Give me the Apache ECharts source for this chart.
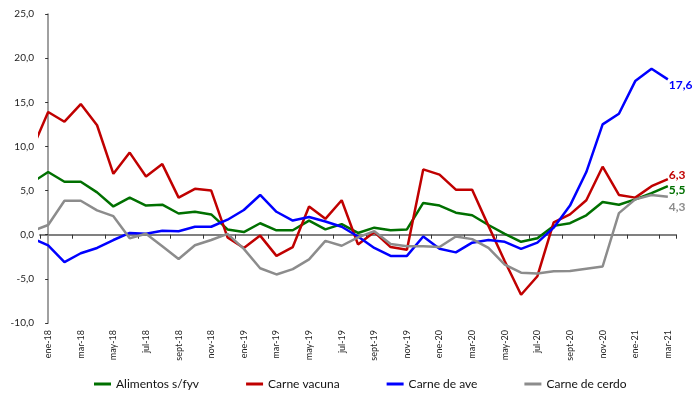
<!DOCTYPE html>
<html>
<head>
<meta charset="utf-8">
<script src="https://cdn.jsdelivr.net/npm/echarts@6/dist/echarts.min.js"></script>
<style>
  html, body { margin: 0; padding: 0; background: #fff; }
  #chart { width: 692px; height: 403px; }
</style>
</head>
<body>
<div id="chart"></div>
<script>
// months shown on the axis (ene-18 .. mar-21)
const months = [
  'ene-18','feb-18','mar-18','abr-18','may-18','jun-18','jul-18','ago-18','sept-18','oct-18','nov-18','dic-18',
  'ene-19','feb-19','mar-19','abr-19','may-19','jun-19','jul-19','ago-19','sept-19','oct-19','nov-19','dic-19',
  'ene-20','feb-20','mar-20','abr-20','may-20','jun-20','jul-20','ago-20','sept-20','oct-20','nov-20','dic-20',
  'ene-21','feb-21','mar-21'
]
// series start one month earlier (dic-17), cut by the y axis
const firstIdx = -1

const alimentos = [5.9, 7.1, 6.0, 6.0, 4.8, 3.2, 4.2, 3.3, 3.4, 2.4, 2.6, 2.3, 0.6, 0.3, 1.3, 0.5, 0.5, 1.6, 0.6, 1.2,
  0.2, 0.8, 0.5, 0.6, 3.6, 3.3, 2.5, 2.2, 1.1, 0.1, -0.8, -0.4, 1.0, 1.3, 2.2, 3.7, 3.4, 4.0, 4.7, 5.5]
const vacuna = [9.6, 13.9, 12.8, 14.8, 12.4, 6.9, 9.3, 6.6, 8.0, 4.2, 5.2, 5.0, -0.3, -1.5, -0.1, -2.4, -1.4, 3.2, 1.8, 3.9,
  -1.1, 0.3, -1.4, -1.7, 7.4, 6.8, 5.1, 5.1, 1.0, -3.0, -6.8, -4.7, 1.4, 2.3, 3.9, 7.7, 4.5, 4.2, 5.5, 6.3]
const ave = [-0.4, -1.2, -3.1, -2.1, -1.5, -0.6, 0.2, 0.1, 0.45, 0.4, 0.9, 0.9, 1.7, 2.8, 4.5, 2.6, 1.6, 2.0, 1.5, 0.9,
  -0.2, -1.5, -2.4, -2.4, -0.2, -1.6, -2.0, -0.9, -0.6, -0.8, -1.6, -0.9, 0.8, 3.3, 7.1, 12.5, 13.7, 17.4, 18.8, 17.6]
const cerdo = [0.4, 1.1, 3.85, 3.85, 2.75, 2.1, -0.4, 0.1, -1.3, -2.75, -1.2, -0.6, 0.1, -1.6, -3.8, -4.5, -3.9, -2.8, -0.7, -1.25,
  -0.3, 0.4, -1.05, -1.3, -1.3, -1.4, -0.2, -0.5, -1.5, -3.4, -4.3, -4.4, -4.15, -4.1, -3.85, -3.6, 2.45, 4.0, 4.5, 4.3]

const yTicks = [-10, -5, 0, 5, 10, 15, 20, 25]

const fmt = v => v.toFixed(1).replace('.', ',')
const font = 'Lato, sans-serif'

const chart = echarts.init(document.getElementById('chart'))

const makeSeries = (name, vals, color, dy) => ({
  name,
  type: 'line',
  xAxisIndex: 1,
  data: vals.map((v, k) => [k + firstIdx, v]),
  showSymbol: false,
  symbol: 'none',
  lineStyle: { width: 2.5, color },
  itemStyle: { color },
  endLabel: {
    show: true,
    formatter: p => fmt(p.value[1]),
    color,
    fontFamily: font,
    fontWeight: 'bold',
    fontSize: 12,
    distance: 1,
    offset: [0, dy]
  }
})

const option = {
  backgroundColor: '#fff',
  animation: false,
  grid: { left: 40, right: 16, top: 14, bottom: 80 },
  legend: {
    left: 89,
    top: 373,
    itemGap: 47,
    itemWidth: 17,
    itemHeight: 3,
    icon: 'rect',
    textStyle: { fontFamily: font, fontSize: 12, color: '#111' },
    data: ['Alimentos s/fyv', 'Carne vacuna', 'Carne de ave', 'Carne de cerdo']
  },
  xAxis: [
    {
      type: 'category',
      position: 'bottom',
      data: months,
      boundaryGap: true,
      axisLine: { show: false, onZero: false },
      axisTick: { show: false },
      axisLabel: { interval: 1, rotate: 90, fontSize: 9, fontFamily: font, color: '#222', margin: 7 }
    },
    {
      type: 'value',
      position: 'bottom',
      min: -0.5,
      max: 38.5,
      interval: 2,
      axisLine: { show: true, onZero: true, lineStyle: { color: '#808080', width: 2 } },
      axisTick: { show: true, length: 4, lineStyle: { color: '#333', width: 1 } },
      axisLabel: { show: false },
      splitLine: { show: false }
    }
  ],
  yAxis: {
    type: 'value',
    min: yTicks[0],
    max: yTicks[yTicks.length - 1],
    interval: 5,
    axisLine: { show: true, lineStyle: { color: '#808080', width: 1.5 } },
    axisTick: { show: true, length: 3, lineStyle: { color: '#333' } },
    axisLabel: { formatter: fmt, fontSize: 10, fontFamily: font, color: '#222', margin: 6 },
    splitLine: { show: false }
  },
  series: [
    makeSeries('Alimentos s/fyv', alimentos, '#007000', 4),
    makeSeries('Carne vacuna', vacuna, '#c00000', -4),
    makeSeries('Carne de ave', ave, '#0000ff', 6),
    makeSeries('Carne de cerdo', cerdo, '#8c8c8c', 10)
  ]
}

chart.setOption(option)
</script>
</body>
</html>
